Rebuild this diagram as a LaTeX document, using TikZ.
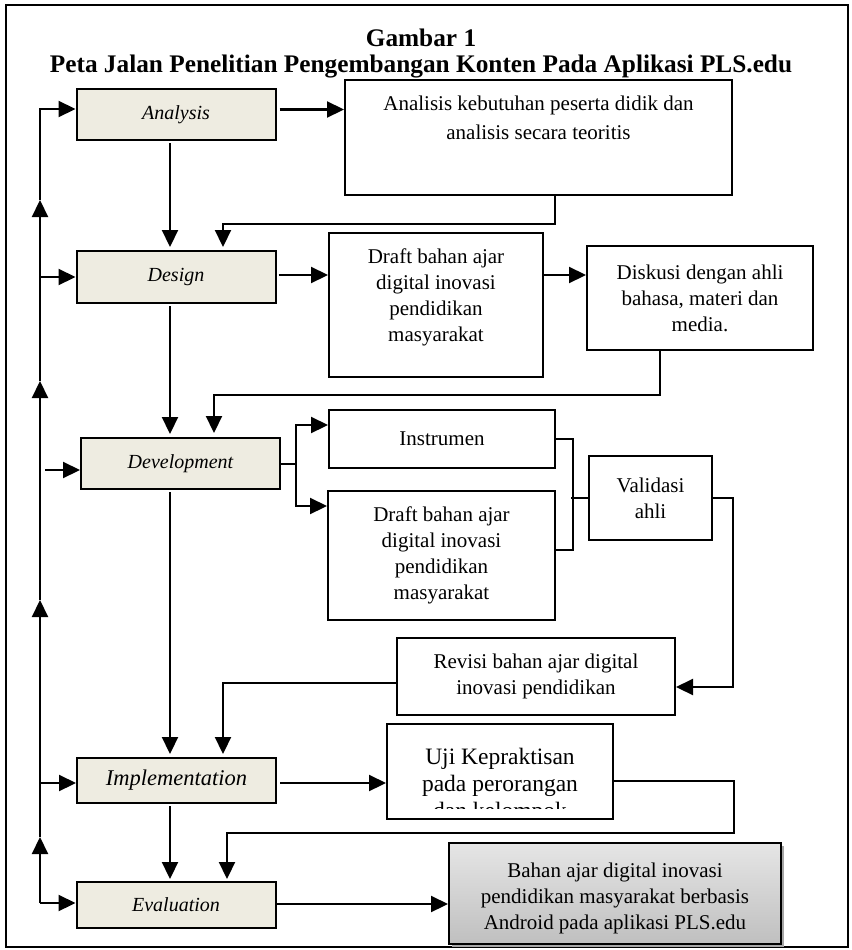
\documentclass[tikz,border=0pt]{standalone}
\usepackage{fontspec}
\setmainfont{Liberation Serif}
\usepackage{xcolor}
\usepackage{tikz}
\usetikzlibrary{shapes,arrows.meta,positioning,calc,shadows}
\definecolor{stagebg}{HTML}{EEECE1}

\begin{document}
\begin{tikzpicture}
  [
    x=1pt, y=-1pt,
    Stage/.style={rectangle, draw=black, fill=stagebg, line width=2pt, minimum width=199pt, inner sep=0pt, font=\fontsize{20}{24}\selectfont\itshape},
    Box/.style={rectangle, draw=black, fill=white, line width=2pt, inner sep=0pt, align=center, font=\fontsize{21}{26}\selectfont},
    Title/.style={anchor=base, inner sep=1pt, font=\fontsize{25.3}{29}\selectfont\bfseries},
    Line/.style={line width=2pt},
    Arrow/.style={line width=2.2pt, -{Triangle[length=17pt, width=16pt]}}
  ]
  \useasboundingbox (0,0) rectangle (851,950);
  \draw[line width=1.5pt] (6,5) rectangle (848,947);
  % Title
  \node[Title] (t1) at (421,47) {Gambar 1};
  \node[Title] (t2) at (421,72) {Peta Jalan Penelitian Pengembangan Konten Pada Aplikasi PLS.edu};
  % Nodes
  \node[Stage, minimum height=51pt] (an) at (176,114.5) {Analysis};
  \node[Stage, minimum height=52pt] (de) at (176,277) {Design};
  \node[Stage, minimum height=51pt] (dv) at (180.5,463.5) {Development};
  \node[Stage, minimum height=45pt, font=\fontsize{22.5}{26}\selectfont\itshape] (im) at (176.5,780.5) {Implementation};
  \node[Stage, minimum height=46pt] (ev) at (176,905) {Evaluation};
  \node[Box, minimum width=387pt, minimum height=115pt] (ab) at (538.5,137.5) {};
  \node[align=center, anchor=north, font=\fontsize{21}{29}\selectfont] (abtext) at ([yshift=-13pt]ab.north) {Analisis kebutuhan peserta didik dan\\analisis secara teoritis};
  \node[Box, minimum width=214pt, minimum height=144pt, text depth=19pt] (da) at (436,305) {Draft bahan ajar\\digital inovasi\\pendidikan\\masyarakat};
  \node[Box, minimum width=226pt, minimum height=104pt] (dk) at (700,298) {Diskusi dengan ahli\\bahasa, materi dan\\media.};
  \node[Box, minimum width=226pt, minimum height=58pt] (ins) at (442,439) {Instrumen};
  \node[Box, minimum width=227pt, minimum height=129pt] (db) at (441.5,555.5) {Draft bahan ajar\\digital inovasi\\pendidikan\\masyarakat};
  \node[Box, minimum width=123pt, minimum height=84pt] (vd) at (650.5,498) {Validasi\\ahli};
  \node[Box, minimum width=278pt, minimum height=77pt] (rv) at (536,676.5) {Revisi bahan ajar digital\\inovasi pendidikan};
  \node[Box, minimum width=226pt, minimum height=95pt] (uj) at (500,771.5) {};
  \begin{scope}
    \clip ([xshift=2pt,yshift=-2pt]uj.north west) rectangle ([xshift=-2pt,yshift=12pt]uj.south east);
    \node[align=center, font=\fontsize{23.5}{27}\selectfont] (ujtext) at ([yshift=-14.5pt]uj.center) {Uji Kepraktisan\\pada perorangan\\dan kelompok};
  \end{scope}
  \node[Box, minimum width=332pt, minimum height=101pt, text height=76pt, top color=gray!20, bottom color=gray!50,
        drop shadow={shadow xshift=3pt, shadow yshift=-3pt, fill=gray!70, opacity=1}] (fi) at (615,893.5)
        {Bahan ajar digital inovasi\\pendidikan masyarakat berbasis\\Android pada aplikasi PLS.edu};
  \coordinate (loop) at (40,0);
  \coordinate (spine) at (170,0);
  \coordinate (u1) at (40,837);
  \coordinate (u2) at (40,600);
  \coordinate (u3) at (40,381);
  \coordinate (u4) at (40,200);
  % Lines
  \draw[Arrow] ([yshift=2pt]ev.west -| loop) -- (u1);
  \draw[Arrow] (u1) -- (u2);
  \draw[Arrow] (u2) -- (u3);
  \draw[Arrow] (u3) -- (u4);
  \draw[Arrow] (u4) |- ([yshift=5.5pt]an.west);
  \draw[Arrow] (loop |- de.west) -- (de.west);
  \draw[Arrow, shorten <=5pt] ([yshift=-6.5pt]dv.west -| loop) -- ([yshift=-6.5pt]dv.west);
  \draw[Arrow] ([yshift=-2.5pt]im.west -| loop) -- ([yshift=-2.5pt]im.west);
  \draw[Arrow] ([yshift=2pt]ev.west -| loop) -- ([yshift=2pt]ev.west);
  \draw[Arrow, shorten <=2pt, shorten >=3pt] (spine |- an.south) -- (spine |- de.north);
  \draw[Arrow, shorten <=2pt, shorten >=3pt] (spine |- de.south) -- (spine |- dv.north);
  \draw[Arrow, shorten <=2pt, shorten >=3pt] (spine |- dv.south) -- (spine |- im.north);
  \draw[Arrow, shorten <=2pt, shorten >=2pt] (spine |- im.south) -- (spine |- ev.north);
  \draw[Arrow, shorten >=3pt] ([xshift=16.5pt]ab.south) -- ++(0,28) -| ([xshift=47pt]de.north);
  \draw[Arrow, shorten >=4pt] ([xshift=-40pt]dk.south) -- ++(0,44) -| ([xshift=33.5pt]dv.north);
  \draw[Arrow, shorten >=3pt] ([yshift=-6.5pt]rv.west) -| ([xshift=46.5pt]im.north);
  \draw[Arrow, shorten >=2pt] ([yshift=-9.5pt]uj.east) -- ++(120,0) -- ++(0,52) -| ([xshift=51pt]ev.north);
  \draw[Arrow] (vd.east) -- ++(20,0) |- ([yshift=-10.5pt]rv.east);
  \draw[Arrow, shorten <=3pt] ([yshift=5pt]an.east) -- ([yshift=5pt]an.east -| ab.west);
  \draw[Arrow, shorten <=2pt] ([yshift=2pt]de.east) -- ([yshift=2pt]de.east -| da.west);
  \draw[Arrow] ([yshift=30pt]da.east) -- ([yshift=30pt]da.east -| dk.west);
  \draw[Line] (dv.east) -- ++(15,0) coordinate (fork);
  \draw[Arrow] (fork) |- ([yshift=14pt]ins.west);
  \draw[Arrow] (fork) |- ([yshift=49.5pt]db.west);
  \draw[Line] (ins.east) -- ++(17,0) -- ++(0,111) -- ([yshift=5.5pt]db.east);
  \draw[Line] (vd.west) -- ++(-17,0);
  \draw[Arrow, shorten <=3pt] ([yshift=-2.5pt]im.east) -- ([yshift=-2.5pt]im.east -| uj.west);
  \draw[Arrow] ([yshift=1pt]ev.east) -- ([yshift=1pt]ev.east -| fi.west);
\end{tikzpicture}
\end{document}
